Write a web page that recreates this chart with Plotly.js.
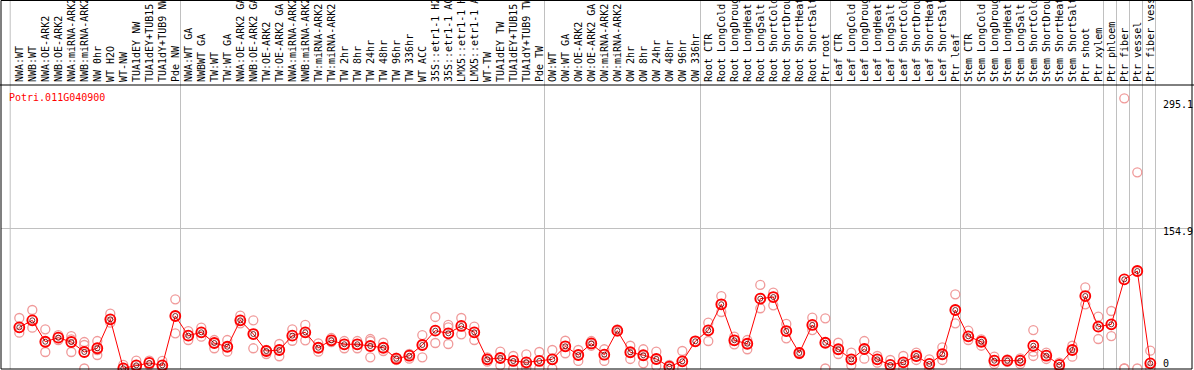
<!DOCTYPE html>
<html>
<head>
<meta charset="utf-8">
<script src="https://cdn.plot.ly/plotly-3.0.1.min.js"></script>
<style>
  html, body { margin: 0; padding: 0; background: #ffffff; }
  #chart { width: 1194px; height: 370px; }
</style>
</head>
<body>
<div id="chart"></div>
<script>
// ---- data ----
const geneId = "Potri.011G040900";

const samples = [
  "NWA:WT","NWB:WT","NWA:OE-ARK2","NWB:OE-ARK2","NWA:miRNA-ARK2","NWB:miRNA-ARK2","NW 0hr","WT H2O","WT-NW","TUA1dEY NW","TUA1dEY+TUB15","TUA1dY+TUB9 NW","Pde NW",
  "NWA:WT GA","NWBWT GA","TW:WT","TW:WT GA","NWA:OE-ARK2 GA","NWB:OE-ARK2 GA","TW:OE-ARK2","TW:OE-ARK2 GA","NWA:miRNA-ARK2","NWB:miRNA-ARK2","TW:miRNA-ARK2","TW:miRNA-ARK2","TW 2hr","TW 8hr","TW 24hr","TW 48hr","TW 96hr","TW 336hr","WT ACC","35S::etr1-1 H2","35S::etr1-1 AC","LMX5::etr1-1 H","LMX5::etr1-1 A","WT-TW","TUA1dEY TW","TUA1dEY+TUB15","TUA1dY+TUB9 TW","Pde TW",
  "OW:WT","OW:WT GA","OW:OE-ARK2","OW:OE-ARK2 GA","OW:miRNA-ARK2","OW:miRNA-ARK2","OW 2hr","OW 8hr","OW 24hr","OW 48hr","OW 96hr","OW 336hr",
  "Root CTR","Root LongCold","Root LongDroug","Root LongHeat","Root LongSalt","Root ShortCold","Root ShortDrou","Root ShortHeat","Root ShortSalt","Ptr root",
  "Leaf CTR","Leaf LongCold","Leaf LongDroug","Leaf LongHeat","Leaf LongSalt","Leaf ShortCold","Leaf ShortDrou","Leaf ShortHeat","Leaf ShortSalt","Ptr leaf",
  "Stem CTR","Stem LongCold","Stem LongDroug","Stem LongHeat","Stem LongSalt","Stem ShortCold","Stem ShortDrou","Stem ShortHeat","Stem ShortSalt","Ptr shoot","Ptr xylem","Ptr phloem","Ptr fiber","Ptr vessel","Ptr fiber vess"
];

// index of the last sample of each group (a separator follows it)
const groupEnds = [12, 40, 52, 62, 72, 83, 84, 85, 86, 87];

const meanExpr = [
  45.4,53.1,29.5,34.0,29.2,18.2,22.3,54.2,0.2,3.5,6.1,3.5,57.9,
  36.2,39.9,28.1,24.0,53.1,38.0,19.3,20.4,36.2,39.9,22.9,31.1,26.7,26.7,24.8,22.9,10.8,14.1,25.9,41.7,38.8,46.9,39.9,10.1,11.6,8.3,6.8,8.3,
  10.1,24.5,14.9,27.6,15.2,41.7,17.9,14.6,10.5,2.0,7.9,30.0,
  42.1,70.8,31.1,27.3,77.0,78.8,41.3,17.1,48.0,28.4,
  21.2,10.1,21.5,10.1,3.9,6.8,13.8,5.0,15.7,64.5,
  35.5,29.5,8.6,8.6,8.6,25.1,14.1,3.9,20.4,79.9,46.1,48.7,98.3,107.5,5.7
];

const rep1 = [
  55.7,64.5,43.2,36.9,35.8,29.2,30.3,60.4,3.9,8.6,8.6,8.3,76.3,
  41.3,45.0,31.4,31.4,58.2,53.1,20.4,27.0,43.2,48.0,27.8,33.6,30.3,30.3,32.5,28.4,11.9,16.0,36.9,56.8,48.0,55.7,46.1,12.3,18.5,13.8,15.5,18.2,
  20.4,30.6,20.4,30.3,21.2,43.2,25.1,21.2,18.5,3.9,19.3,30.0,
  50.5,79.9,35.1,31.4,92.1,83.6,49.1,17.9,56.0,55.3,
  28.4,17.4,30.3,13.8,9.4,13.8,17.4,10.1,23.4,81.8,
  41.7,32.2,13.0,10.0,11.2,42.4,17.4,6.4,25.1,89.5,57.1,63.4,297.9,216.3,19.6
];
const rep2 = [
  44.7,53.5,29.2,34.0,32.2,25.9,20.4,54.2,0.2,3.5,6.1,3.5,57.9,
  36.2,39.9,28.1,24.0,53.1,38.0,19.3,20.4,36.2,39.9,22.9,31.1,26.7,26.7,30.3,22.9,10.8,14.1,25.9,41.7,45.4,46.9,39.9,10.1,11.6,8.3,4.5,8.3,
  10.1,24.5,14.9,27.3,15.2,41.7,17.9,14.6,10.5,2.0,7.9,30.0,
  42.1,70.8,31.1,27.3,77.0,78.8,41.3,17.1,48.0,28.4,
  21.2,10.1,21.5,10.1,3.9,6.8,13.8,5.0,15.7,64.5,
  35.5,29.5,8.6,8.6,8.6,18.5,14.1,3.9,20.4,79.9,46.1,48.7,0,107.1,5.7
];
const rep3 = [
  39.5,45.0,18.2,31.4,18.2,0,14.9,50.5,0,0.2,3.5,0.2,38.8,
  31.4,35.1,22.3,18.5,49.8,22.3,16.0,13.5,30.6,31.1,18.5,29.2,22.3,22.3,12.3,19.3,9.4,10.8,12.3,28.1,27.0,37.7,31.4,7.5,3.5,0,0.5,0,
  0,16.8,8.3,25.1,8.3,40.6,10.5,5.7,2.8,0,0.2,30.0,
  30.3,62.3,26.7,21.2,66.4,69.7,33.3,16.0,42.4,0,
  16.0,3.5,10.8,6.4,0,0,9.4,0,9.4,49.8,
  31.4,25.1,5.0,7.2,5.0,13.8,10.5,0,13.0,70.8,32.5,35.8,0,0,0
];

const yLabels = [295.1, 154.9, 0];

// ---- drawing ----
const idx = samples.map((_, i) => i);
const monoFont = "DejaVu Sans Mono, Liberation Mono, monospace";

const traces = [
  {
    x: idx.concat(idx, idx),
    y: rep1.concat(rep2, rep3),
    type: "scatter",
    mode: "markers",
    cliponaxis: false,
    hoverinfo: "skip",
    marker: { symbol: "circle-open", size: 9, color: "#f09a9a", line: { width: 1.3, color: "#f09a9a" } }
  },
  {
    x: idx,
    y: meanExpr,
    type: "scatter",
    mode: "lines+markers",
    cliponaxis: false,
    line: { color: "#ff0000", width: 1 },
    marker: { symbol: "circle-open", size: 10, color: "#ff0000", line: { width: 1.8, color: "#ff0000" } }
  },
  {
    x: idx,
    y: meanExpr,
    type: "scatter",
    mode: "markers",
    cliponaxis: false,
    hoverinfo: "skip",
    marker: { symbol: "circle-open", size: 5, color: "#5a0000", line: { width: 0.8, color: "#5a0000" } }
  }
];

const shapes = [];
const seps = [-0.7].concat(groupEnds.map(e => e + 0.4));
seps.forEach(s => {
  shapes.push({ type: "line", xref: "x", yref: "paper", x0: s, x1: s, y0: 0, y1: 1.31,
                line: { color: "#c0c0c0", width: 1 }, layer: "below" });
});
// frame
shapes.push({ type: "rect", xref: "paper", yref: "paper", x0: 0, x1: 1, y0: 0, y1: 1.2975,
              line: { color: "#000000", width: 1 }, layer: "above" });
shapes.push({ type: "line", xref: "paper", yref: "paper", x0: -0.01, x1: 1.01, y0: 1, y1: 1,
              line: { color: "#000000", width: 1 }, layer: "above" });

const annotations = yLabels.map(v => ({
  xref: "paper", yref: "y", x: 0.9756, y: v, xanchor: "left",
  yanchor: v === 0 ? "bottom" : "top",
  yshift: v === 0 ? 0 : 2,
  text: String(v), showarrow: false, borderpad: 0, borderwidth: 0,
  font: { family: monoFont, size: 10, color: "#000000" }
}));

const layout = {
  width: 1194, height: 370,
  margin: { l: 1, r: 2, t: 85, b: 1, pad: 0 },
  paper_bgcolor: "#ffffff", plot_bgcolor: "#ffffff",
  showlegend: false,
  title: {
    text: geneId, xref: "container", yref: "container",
    x: 9 / 1194, xanchor: "left", y: 1 - 97.7 / 370, yanchor: "middle",
    font: { family: monoFont, size: 10, color: "#ff0000" }
  },
  xaxis: {
    range: [-1.408, 90.208], side: "top",
    tickmode: "array", tickvals: idx, ticktext: samples, tickangle: -90,
    tickfont: { family: monoFont, size: 10, color: "#000000" },
    ticklabelstandoff: 2,
    ticks: "", showgrid: false, zeroline: false, showline: false, automargin: false
  },
  yaxis: {
    range: [-0.55, 312.56],
    tickmode: "array", tickvals: [154.9], showticklabels: false,
    showgrid: true, gridcolor: "#c0c0c0", gridwidth: 1,
    zeroline: false, showline: false, automargin: false
  },
  shapes: shapes,
  annotations: annotations
};

Plotly.newPlot("chart", traces, layout, { displayModeBar: false, staticPlot: true });
</script>
</body>
</html>
